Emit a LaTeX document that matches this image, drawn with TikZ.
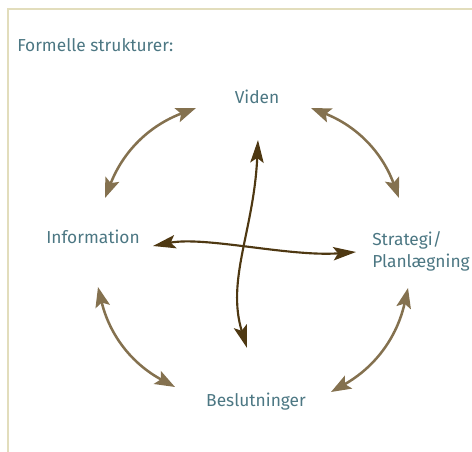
\documentclass[tikz,border=0pt]{standalone}
\usepackage{fontspec}
\setmainfont{Fira Sans}
\usetikzlibrary{arrows.meta}

\definecolor{labelcol}{HTML}{4C7783}
\definecolor{ringcol}{HTML}{84714F}
\definecolor{crosscol}{HTML}{4E3812}
\definecolor{framecol}{HTML}{E2DDBC}

\tikzset{
    label/.style={text=labelcol, font=\fontsize{13}{16.5}\selectfont, inner sep=0pt},
    ring/.style={draw=ringcol, line width=1.9pt, {Stealth[length=15pt,width=11pt,inset=3pt]}-{Stealth[length=15pt,width=11pt,inset=3pt]}},
    cross/.style={draw=crosscol, line width=1.6pt, {Stealth[length=17pt,width=10pt,inset=3.5pt]}-{Stealth[length=17pt,width=10pt,inset=3.5pt]}}
}

\begin{document}
\begin{tikzpicture}[x=0.75pt, y=-0.75pt]
    \useasboundingbox (0,0) rectangle (472,452);
    % frame
    \draw[framecol, line width=1.2pt] (8,452) -- (8,9) -- (472,9);

    % labels
    \node[label, anchor=west] (title) at (17,45) {Formelle strukturer:};
    \node[label] (viden) at (257,97) {Viden};
    \node[label] (info) at (93,237) {Information};
    \node[label, anchor=west, align=left] (strat) at (372,251) {Strategi/\\Planlægning};
    \node[label] (beslut) at (256,402) {Beslutninger};

    % ends of the ring arrows, clockwise
    \def\ringends{105/198,196/108,311/108,399/198,408/288,331/392,175/387,98/287}
    %              1       2       3       4       5       6       7       8
    \foreach \px/\py [count=\i from 1] in \ringends {\coordinate (r\i) at (\px,\py);}
    \foreach \i/\j in {1/2,3/4,5/6,7/8} {\draw[ring] (r\i) to[bend left=24] (r\j);}

    % the cross
    \coordinate (ctop) at (258,140);
    \coordinate (cbot) at (247,348);
    \coordinate (cleft) at (153,246);
    \coordinate (cright) at (356,252);
    \draw[cross] (ctop) .. controls (254,230) and (226,280) .. (cbot);
    \draw[cross] (cleft) .. controls (205,236) and (290,257) .. (cright);
\end{tikzpicture}
\end{document}
